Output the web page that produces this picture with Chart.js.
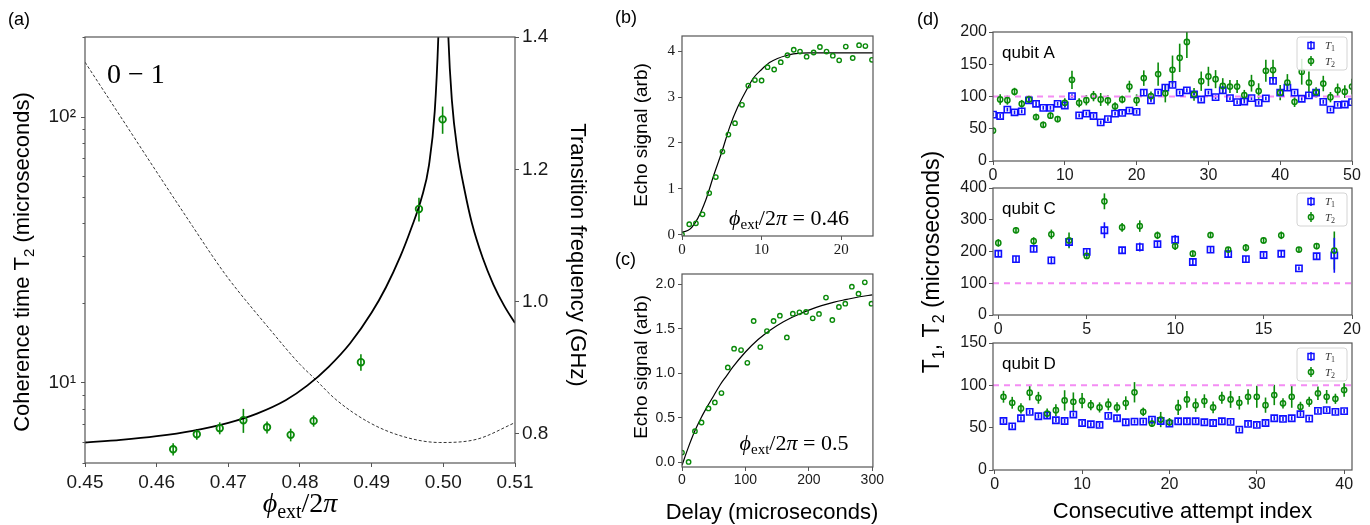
<!DOCTYPE html>
<html>
<head>
<meta charset="utf-8">
<script src="https://cdn.jsdelivr.net/npm/chart.js@4.4.1/dist/chart.umd.min.js"></script>
<style>
  body { margin: 0; background: #fff; width: 1370px; height: 525px; position: relative; overflow: hidden; }
  canvas { position: absolute; }
</style>
</head>
<body>
<canvas id="ca" width="590" height="525" style="left:0;top:0"></canvas>
<canvas id="cb" width="285" height="262" style="left:600px;top:0"></canvas>
<canvas id="cc" width="285" height="275" style="left:600px;top:250px"></canvas>
<canvas id="cd1" width="470" height="185" style="left:900px;top:0"></canvas>
<canvas id="cd2" width="470" height="320" style="left:900px;top:100px"></canvas>
<canvas id="cd3" width="470" height="195" style="left:900px;top:330px"></canvas>
<script>
// ---- (a) coherence vs flux ----
const phiMeas = [0.4623, 0.4656, 0.4688, 0.4721, 0.4754, 0.4787, 0.4819, 0.4885, 0.4966, 0.4999]
const t2Meas = [5.63, 6.41, 6.76, 7.24, 6.81, 6.38, 7.2, 11.97, 45.1, 98]
const t2MeasErr = [0.3, 0.3, 0.35, 0.75, 0.35, 0.35, 0.35, 0.85, 4.6, 11.5]

// predicted T2 (null = gap at the sweet spot)
const phiT2Fit = [0.45, 0.455, 0.46, 0.465, 0.47, 0.474, 0.478, 0.481, 0.484, 0.487, 0.49, 0.492, 0.494, 0.4955,
  0.497, 0.498, 0.4988, 0.4993, 0.4996,
  0.5, 0.5004, 0.5007, 0.5012, 0.502, 0.503, 0.504, 0.5055, 0.507, 0.5085, 0.51]
const t2Fit = [5.97, 6.11, 6.31, 6.61, 7.08, 7.67, 8.61, 9.77, 11.5, 14.1, 18.4, 22.9, 29.9, 38,
  50, 66, 105, 200, 400,
  null, 400, 200, 115, 74, 52.5, 39.8, 29.5, 23.4, 19.5, 16.8]

const phiFreq = [0.45, 0.455, 0.46, 0.465, 0.4679, 0.47, 0.4758, 0.48, 0.4819, 0.485, 0.4897, 0.4944, 0.4995, 0.5047, 0.51]
const freqGHz = [1.362, 1.279, 1.196, 1.114, 1.067, 1.035, 0.958, 0.905, 0.885, 0.852, 0.817, 0.796, 0.787, 0.792, 0.817]

const phiTicks = [0.45, 0.46, 0.47, 0.48, 0.49, 0.50, 0.51]
const t2Ticks = [10, 100]
const t2TickLabels = ['10¹', '10²']
const t2MinorTicks = [5, 6, 7, 8, 9, 20, 30, 40, 50, 60, 70, 80, 90, 200]
const freqTicks = [0.8, 1.0, 1.2, 1.4]

// ---- (b) echo at 0.46 ----
const delayB = [0, 0.91, 1.75, 2.58, 3.42, 4.25, 5.08, 5.83, 6.66, 7.54, 8.33, 9.16, 10.0, 10.75, 11.58,
  12.41, 13.25, 14.04, 14.83, 15.66, 16.54, 17.33, 18.16, 18.95, 19.75, 20.58, 21.45, 22.25, 23.04, 23.87]
const echoB = [0, 0.226, 0.247, 0.443, 0.906, 1.254, 1.81, 2.18, 2.43, 2.83, 3.25, 3.37, 3.36, 3.65, 3.6,
  3.76, 3.91, 4.03, 3.99, 3.88, 3.97, 4.09, 3.99, 3.9, 3.8, 4.1, 3.85, 4.13, 4.11, 3.81]
const fitDelayB = [0, 1, 2, 3, 4, 5, 6, 7, 8, 9, 10, 11, 12, 13, 14, 16, 18, 24]
const fitB = [0.05, 0.12, 0.36, 0.76, 1.3, 1.8, 2.35, 2.78, 3.12, 3.42, 3.6, 3.75, 3.84, 3.9, 3.94, 3.96, 3.96, 3.96]
const xTicksB = [0, 10, 20]
const yTicksB = [0, 1, 2, 3, 4]

// ---- (c) echo at 0.5 ----
const delayC = [0, 10.4, 20.4, 30.8, 41.8, 51.8, 62.2, 72.2, 82.1, 93.1, 103, 113, 123.4, 133.9, 144.4,
  154.3, 165.3, 174.7, 185.2, 195.6, 206.1, 216, 227, 237, 247.4, 257.4, 267.8, 278.3, 288.2, 298.7]
const echoC = [0.112, 0.007, 0.352, 0.449, 0.607, 0.674, 0.779, 1.067, 1.277, 1.262, 1.119, 1.588, 1.295, 1.475, 1.588,
  1.647, 1.404, 1.67, 1.685, 1.689, 1.618, 1.667, 1.85, 1.599, 1.745, 1.782, 1.973, 1.894, 2.022, 1.782]
const fitDelayC = [0, 10, 20, 30, 40, 50, 60, 70, 80, 100, 120, 140, 160, 180, 200, 220, 240, 260, 280, 300]
const fitC = [-0.03, 0.17, 0.35, 0.5, 0.63, 0.75, 0.87, 0.97, 1.07, 1.24, 1.38, 1.49, 1.58, 1.65, 1.71, 1.76, 1.8, 1.83, 1.86, 1.88]
const xTicksC = [0, 100, 200, 300]
const yTicksC = [0, 0.5, 1.0, 1.5, 2.0]

// ---- (d) repeated T1 / T2 ----
const refLevel = 100

const idxA = [0, 1, 2, 3, 4, 5, 6, 7, 8, 9, 10, 11, 12, 13, 14, 15, 16, 17, 18, 19, 20, 21, 22, 23, 24, 25,
  26, 27, 28, 29, 30, 31, 32, 33, 34, 35, 36, 37, 38, 39, 40, 41, 42, 43, 44, 45, 46, 47, 48, 49, 50]
const t1A = [71.9, 69.8, 79.7, 75.5, 77, 93.9, 88.7, 82.4, 82.4, 88.7, 86, 100.6, 70.8, 73.4, 69.8, 59.8, 65, 73.4,
  74.5, 78.1, 76.1, 106, 93.9, 106, 113.8, 118, 106, 109.6, 103.3, 95.4, 106, 99, 109.6, 97.5, 91.2, 92.3, 97.5,
  90.2, 97, 124.2, 106, 113.8, 106, 96.5, 101.7, 106, 91.7, 79.7, 87.1, 87.6, 91.2]
const t1AErr = [3, 3, 3, 3, 3, 4, 4, 3, 3, 3, 3, 3, 3, 3, 3, 3, 3, 3, 3, 3, 3, 4, 3, 3, 4, 4, 3, 3, 3, 3,
  3, 3, 3, 3, 3, 3, 3, 3, 3, 5, 3, 4, 3, 3, 3, 3, 3, 3, 3, 3, 3]
const t2A = [47.2, 95.4, 94.3, 107.5, 88.7, 95.4, 68.2, 56.1, 70.3, 65, 90.2, 125.8, 90.2, 94.3, 100.6, 95.4, 93.9,
  84.9, 95.4, 115.4, 94.3, 128.5, 100.6, 134.7, 104.9, 141.5, 159.9, 184.6, 103.3, 123.7, 131.1, 126.9, 116.4,
  115.4, 115.4, 102.2, 120.6, 108.5, 139.9, 141, 106, 121.7, 91.8, 138.4, 121.7, 106.4, 120.1, 99, 110.1, 107.5, 115.4]
const t2AErr = [5, 8, 7, 6, 6, 6, 5, 5, 5, 5, 7, 14, 7, 8, 8, 10, 8, 6, 6, 9, 9, 12, 7, 18, 14, 22, 22, 25, 10, 15,
  15, 14, 12, 10, 10, 8, 13, 12, 17, 16, 12, 13, 8, 20, 17, 8, 12, 8, 10, 10, 12]

const idxC = [0, 1, 2, 3, 4, 5, 6, 7, 8, 9, 10, 11, 12, 13, 14, 15, 16, 17, 18, 19]
const t1C = [193, 176, 208, 172, 230, 199, 267, 204, 214, 223, 237, 167, 206, 192, 176, 189, 193, 147, 185, 188]
const t1CErr = [10, 10, 10, 12, 15, 8, 25, 10, 14, 10, 15, 12, 10, 10, 10, 8, 10, 6, 10, 55]
const t2C = [227, 267, 233, 254, 235, 186, 358, 276, 280, 251, 217, 193, 252, 206, 212, 235, 251, 206, 217, 203]
const t2CErr = [12, 10, 12, 15, 25, 8, 25, 14, 18, 12, 12, 10, 10, 8, 12, 10, 12, 8, 10, 60]

const idxD = [1, 2, 3, 4, 5, 6, 7, 8, 9, 10, 11, 12, 13, 14, 15, 16, 17, 18, 19, 20,
  21, 22, 23, 24, 25, 26, 27, 28, 29, 30, 31, 32, 33, 34, 35, 36, 37, 38, 39, 40]
const t1D = [57.9, 51.6, 61.1, 68.7, 63.5, 64.3, 58.8, 57.9, 65.5, 55.5, 54, 53.2, 63.9, 61.1, 56.4, 57.2, 57.2,
  59.6, 57.9, 54.8, 57.6, 57.6, 57.6, 56.4, 55.5, 57.6, 56.8, 47.7, 54.4, 53.2, 55.5, 61.1, 60.3, 61.1, 65.9,
  60.7, 69.9, 70.7, 68.7, 69.5]
const t1DErr = [2.5, 2.5, 2.5, 2.5, 2.5, 2.5, 2.5, 2.5, 2.5, 2.5, 2.5, 2.5, 2.5, 2.5, 2.5, 2.5, 2.5, 2.5, 2.5, 2.5,
  2.5, 2.5, 2.5, 2.5, 2.5, 2.5, 2.5, 2.5, 2.5, 2.5, 2.5, 2.5, 2.5, 2.5, 2.5, 2.5, 2.5, 2.5, 2.5, 2.5]
const t2D = [86.5, 79.4, 72.7, 91.3, 85.3, 66.7, 70.7, 82.2, 80.6, 81.8, 76.6, 73.9, 77.5, 73.9, 79, 91.8, 68.7,
  54.8, 59.6, 56.4, 73.9, 83.4, 76.6, 81.4, 73.9, 85.3, 83.4, 79.4, 86.5, 86.5, 76.6, 88.6, 78.7, 86.5, 74.6,
  80.6, 90.6, 86.5, 84.1, 94.5]
const t2DErr = [7, 7, 6, 9, 7, 6, 7, 12, 11, 9, 6, 6, 7, 6, 8, 12, 5, 4, 9, 5, 9, 10, 8, 8, 7, 7, 10, 8, 9, 13,
  9, 12, 6, 13, 6, 6, 8, 8, 6, 8]

const xTicksDA = [0, 10, 20, 30, 40, 50]
const yTicksDA = [0, 50, 100, 150, 200]
const xTicksDC = [0, 5, 10, 15, 20]
const yTicksDC = [0, 100, 200, 300, 400]
const xTicksDD = [0, 10, 20, 30, 40]
const yTicksDD = [0, 50, 100, 150]

// ---- styling ----
const SANS = '"Liberation Sans", Arial, sans-serif'
const SERIF = '"Liberation Serif", "DejaVu Serif", serif'
const INK = '#1a1a1a'
const FRAME = '#555'
const GREEN = '#0a8a0a'
const BLUE = '#1010ff'
const NONE = 'rgba(0,0,0,0)'

Chart.defaults.font.family = SANS
Chart.defaults.animation = false
Chart.defaults.events = []

const pts = (xs, ys) => xs.map((x, i) => ({ x, y: ys[i] }))

function axis (pos, min, max, ticks, size, font, pad, fmt, type) {
  return {
    type: type || 'linear',
    position: pos,
    min,
    max,
    afterBuildTicks: (s) => { s.ticks = ticks.map((v) => ({ value: v })) },
    afterFit: (s) => { if (s.isHorizontal()) s.height = size; else s.width = size },
    grid: { display: true, drawOnChartArea: false, drawTicks: true, tickLength: 4, tickColor: FRAME, tickWidth: 1 },
    border: { display: false },
    ticks: { font, color: INK, padding: pad, maxRotation: 0, autoSkip: false, callback: fmt || ((v) => String(v)) }
  }
}

// vertical error bars, drawn under the markers
const errorBars = {
  id: 'errorBars',
  beforeDatasetsDraw (chart) {
    const { ctx, chartArea: a } = chart
    ctx.save()
    ctx.beginPath()
    ctx.rect(a.left, a.top, a.right - a.left, a.bottom - a.top)
    ctx.clip()
    chart.data.datasets.forEach((ds, i) => {
      if (!ds.errors) return
      const meta = chart.getDatasetMeta(i)
      const xs = chart.scales[meta.xAxisID]
      const ys = chart.scales[meta.yAxisID]
      ctx.strokeStyle = ds.borderColor
      ctx.lineWidth = ds.errWidth || 1.5
      ds.data.forEach((p, j) => {
        const e = ds.errors[j]
        if (!e) return
        const x = xs.getPixelForValue(p.x)
        ctx.beginPath()
        ctx.moveTo(x, ys.getPixelForValue(p.y - e))
        ctx.lineTo(x, ys.getPixelForValue(p.y + e))
        ctx.stroke()
      })
    })
    ctx.restore()
  }
}

const frame = {
  id: 'frame',
  afterDraw (chart) {
    const { ctx, chartArea: a } = chart
    ctx.save()
    ctx.strokeStyle = FRAME
    ctx.lineWidth = 1.2
    ctx.strokeRect(a.left, a.top, a.right - a.left, a.bottom - a.top)
    ctx.restore()
  }
}

// text made of runs: [text, font, dy]
function drawRuns (ctx, t) {
  ctx.save()
  ctx.translate(t.x, t.y)
  if (t.rot) ctx.rotate(t.rot)
  ctx.fillStyle = t.color || '#000'
  ctx.textBaseline = 'alphabetic'
  ctx.textAlign = 'left'
  let w = 0
  t.runs.forEach((r) => { ctx.font = r[1]; w += ctx.measureText(r[0]).width })
  let x = t.align === 'center' ? -w / 2 : (t.align === 'right' ? -w : 0)
  t.runs.forEach((r) => {
    ctx.font = r[1]
    ctx.fillText(r[0], x, r[2] || 0)
    x += ctx.measureText(r[0]).width
  })
  ctx.restore()
}

function texts (items) {
  return {
    id: 'texts',
    afterDraw (chart) {
      items.forEach((t) => drawRuns(chart.ctx, typeof t === 'function' ? t(chart.chartArea) : t))
    }
  }
}

function mathPhi (size, value) {
  return [['ϕ', `italic ${size}px ${SERIF}`], ['ext', `${Math.round(size * 0.7)}px ${SERIF}`, size * 0.2],
    ['/2', `${size}px ${SERIF}`], ['π', `italic ${size}px ${SERIF}`], [value, `${size}px ${SERIF}`]]
}

const echoTitle = [['Echo signal (arb)', `19px ${SANS}`]]

const legendT = {
  id: 'legendT',
  afterDraw (chart) {
    const { ctx, chartArea: a } = chart
    const x0 = a.right - 55
    const y0 = a.top + 5
    ctx.save()
    ctx.fillStyle = 'rgba(255,255,255,0.85)'
    ctx.strokeStyle = '#d4d4d4'
    ctx.lineWidth = 1
    ctx.beginPath()
    ctx.roundRect(x0, y0, 50, 33, 3)
    ctx.fill()
    ctx.stroke()
    const mx = x0 + 14
    // T1 entry
    ctx.strokeStyle = BLUE
    ctx.lineWidth = 1.5
    ctx.beginPath(); ctx.moveTo(mx, y0 + 4); ctx.lineTo(mx, y0 + 13); ctx.stroke()
    ctx.strokeRect(mx - 3, y0 + 5.5, 6, 6)
    // T2 entry
    ctx.strokeStyle = GREEN
    ctx.beginPath(); ctx.moveTo(mx, y0 + 19); ctx.lineTo(mx, y0 + 29); ctx.stroke()
    ctx.beginPath(); ctx.arc(mx, y0 + 24, 2.6, 0, Math.PI * 2); ctx.stroke()
    ctx.restore()
    drawRuns(ctx, { x: x0 + 28, y: y0 + 12, color: '#333', runs: [['T', `italic 11px ${SERIF}`], ['1', `8px ${SERIF}`, 2]] })
    drawRuns(ctx, { x: x0 + 28, y: y0 + 28, color: '#333', runs: [['T', `italic 11px ${SERIF}`], ['2', `8px ${SERIF}`, 2]] })
  }
}

// ---------- panel (a) ----------
const minorLogTicks = {
  id: 'minorLogTicks',
  afterDraw (chart) {
    const { ctx } = chart
    const s = chart.scales.y
    ctx.save()
    ctx.strokeStyle = FRAME
    ctx.lineWidth = 1
    t2MinorTicks.forEach((v) => {
      const y = Math.round(s.getPixelForValue(v)) + 0.5
      ctx.beginPath(); ctx.moveTo(s.right - 2.5, y); ctx.lineTo(s.right, y); ctx.stroke()
    })
    ctx.restore()
  }
}

new Chart(document.getElementById('ca'), {
  type: 'scatter',
  data: {
    datasets: [
      { data: pts(phiMeas, t2Meas), errors: t2MeasErr, errWidth: 1.6, yAxisID: 'y', borderColor: GREEN,
        pointRadius: 3.3, pointBorderWidth: 1.8, pointBackgroundColor: NONE },
      { data: pts(phiT2Fit, t2Fit), yAxisID: 'y', showLine: true, spanGaps: false, borderColor: '#000',
        borderWidth: 1.8, pointRadius: 0, cubicInterpolationMode: 'monotone' },
      { data: pts(phiFreq, freqGHz), yAxisID: 'y2', showLine: true, borderColor: '#333', borderWidth: 1,
        borderDash: [3, 2], pointRadius: 0, cubicInterpolationMode: 'monotone' }
    ]
  },
  options: {
    responsive: false,
    layout: { autoPadding: false, padding: { top: 37, right: 0, left: 0, bottom: 0 } },
    plugins: { legend: { display: false }, tooltip: { enabled: false } },
    scales: {
      x: axis('bottom', 0.45, 0.51, phiTicks, 62, { size: 19 }, 4, (v) => v.toFixed(2)),
      y: axis('left', 5, 200, t2Ticks, 85, { size: 19 }, 5, (v, i) => t2TickLabels[i], 'logarithmic'),
      y2: axis('right', 0.756, 1.4, freqTicks, 75, { size: 19 }, 3, (v) => v.toFixed(1))
    }
  },
  plugins: [errorBars, frame, minorLogTicks, texts([
    { x: 8, y: 25, runs: [['(a)', `18px ${SANS}`]] },
    { x: 107, y: 83, runs: [['0 − 1', `28px ${SERIF}`]] },
    { x: 300, y: 512, align: 'center', runs: mathPhi(28, '') },
    { x: 29, y: 262, rot: -Math.PI / 2, align: 'center',
      runs: [['Coherence time T', `22px ${SANS}`], ['2', `15px ${SANS}`, 5], [' (microseconds)', `22px ${SANS}`]] },
    { x: 571, y: 255, rot: Math.PI / 2, align: 'center', runs: [['Transition frequency (GHz)', `22px ${SANS}`]] }
  ])]
})

// ---------- panel (b) ----------
new Chart(document.getElementById('cb'), {
  type: 'scatter',
  data: {
    datasets: [
      { data: pts(delayB, echoB), borderColor: GREEN, pointRadius: 2.2, pointBorderWidth: 1.4, pointBackgroundColor: NONE },
      { data: pts(fitDelayB, fitB), showLine: true, borderColor: '#000', borderWidth: 1.2, pointRadius: 0,
        cubicInterpolationMode: 'monotone' }
    ]
  },
  options: {
    responsive: false,
    layout: { autoPadding: false, padding: { top: 36, right: 12, left: 0, bottom: 0 } },
    plugins: { legend: { display: false }, tooltip: { enabled: false } },
    scales: {
      x: axis('bottom', 0, 24, xTicksB, 26, { size: 15, family: SERIF }, 1),
      y: axis('left', -0.03, 4.33, yTicksB, 82, { size: 15, family: SERIF }, 3)
    }
  },
  plugins: [frame, texts([
    { x: 15, y: 23, runs: [['(b)', `18px ${SANS}`]] },
    { x: 47, y: 135, rot: -Math.PI / 2, align: 'center', runs: echoTitle },
    { x: 189, y: 225, align: 'center', runs: mathPhi(22, ' = 0.46') }
  ])]
})

// ---------- panel (c) ----------
new Chart(document.getElementById('cc'), {
  type: 'scatter',
  data: {
    datasets: [
      { data: pts(delayC, echoC), borderColor: GREEN, pointRadius: 2.2, pointBorderWidth: 1.4, pointBackgroundColor: NONE },
      { data: pts(fitDelayC, fitC), showLine: true, borderColor: '#000', borderWidth: 1.2, pointRadius: 0,
        cubicInterpolationMode: 'monotone' }
    ]
  },
  options: {
    responsive: false,
    layout: { autoPadding: false, padding: { top: 24, right: 12, left: 0, bottom: 0 } },
    plugins: { legend: { display: false }, tooltip: { enabled: false } },
    scales: {
      x: axis('bottom', 0, 301, xTicksC, 58, { size: 14 }, 1),
      y: axis('left', -0.05, 2.115, yTicksC, 82, { size: 14 }, 3, (v) => v.toFixed(1))
    }
  },
  plugins: [frame, texts([
    { x: 15, y: 15, runs: [['(c)', `18px ${SANS}`]] },
    { x: 47, y: 117, rot: -Math.PI / 2, align: 'center', runs: echoTitle },
    { x: 194, y: 200, align: 'center', runs: mathPhi(22, ' = 0.5') },
    { x: 172, y: 269, align: 'center', runs: [['Delay (microseconds)', `22px ${SANS}`]] }
  ])]
})

// ---------- panel (d) ----------
function qubitChart (id, idx, t1, t1Err, t2, t2Err, xr, yr, xt, yt, box, name, extra) {
  const refX = [xr[0], xr[1]]
  return new Chart(document.getElementById(id), {
    type: 'scatter',
    data: {
      datasets: [
        { data: pts(refX, [refLevel, refLevel]), showLine: true, borderColor: '#f48cf4', borderWidth: 2,
          borderDash: [6, 5], pointRadius: 0, order: 3 },
        { data: pts(idx, t2), errors: t2Err, errWidth: 1.6, borderColor: GREEN, pointRadius: 2.6,
          pointBorderWidth: 1.5, pointBackgroundColor: NONE, order: 1 },
        { data: pts(idx, t1), errors: t1Err, errWidth: 1.6, borderColor: BLUE, pointStyle: 'rect',
          pointRadius: 4.4, pointBorderWidth: 1.6, pointBackgroundColor: NONE, order: 2 }
      ]
    },
    options: {
      responsive: false,
      layout: { autoPadding: false, padding: { top: box[0], right: 18, left: 0, bottom: 0 } },
      plugins: { legend: { display: false }, tooltip: { enabled: false } },
      scales: {
        x: axis('bottom', xr[0], xr[1], xt, box[1], { size: 16 }, 1),
        y: axis('left', yr[0], yr[1], yt, 93, { size: 16 }, 2)
      }
    },
    plugins: [errorBars, frame, legendT, texts([
      (a) => ({ x: a.left + 9, y: a.top + 26, runs: [[name, `17px ${SANS}`]] })
    ].concat(extra))]
  })
}

qubitChart('cd1', idxA, t1A, t1AErr, t2A, t2AErr, [0, 50], [0, 200], xTicksDA, yTicksDA, [32, 24], 'qubit A',
  [{ x: 17, y: 25, runs: [['(d)', `18px ${SANS}`]] }])
qubitChart('cd2', idxC, t1C, t1CErr, t2C, t2CErr, [-0.3, 20], [0, 400], xTicksDC, yTicksDC, [88, 105], 'qubit C',
  [{ x: 39, y: 162, rot: -Math.PI / 2, align: 'center',
    runs: [['T', `23px ${SANS}`], ['1', `16px ${SANS}`, 5], [', T', `23px ${SANS}`], ['2', `16px ${SANS}`, 5],
      [' (microseconds)', `23px ${SANS}`]] }])
qubitChart('cd3', idxD, t1D, t1DErr, t2D, t2DErr, [-0.2, 40.9], [0, 150], xTicksDD, yTicksDD, [13, 55], 'qubit D',
  [{ x: 282.5, y: 188, align: 'center', runs: [['Consecutive attempt index', `22px ${SANS}`]] }])
</script>
</body>
</html>
